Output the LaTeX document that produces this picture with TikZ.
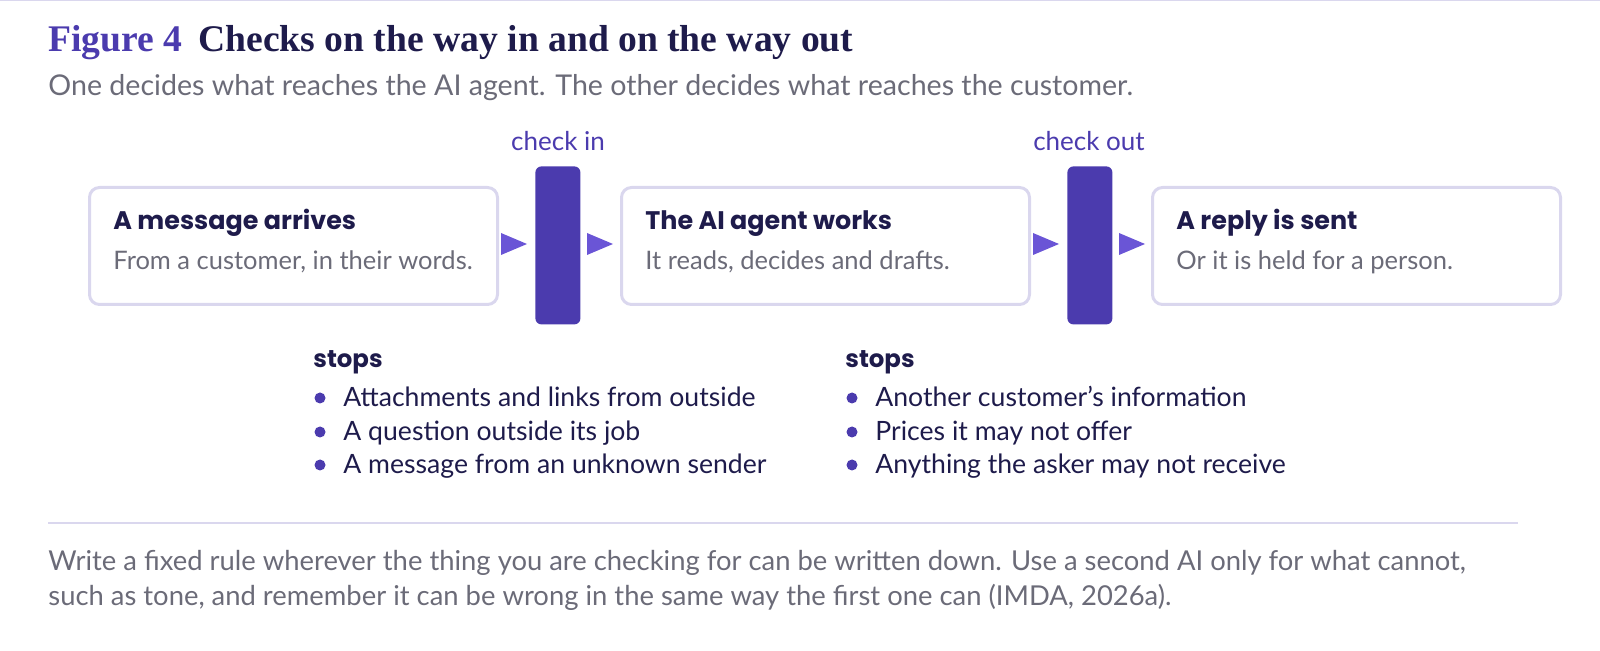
\documentclass[tikz,border=0pt]{standalone}
\usepackage{fontspec}
\setmainfont{Lato}
\newfontfamily\ser{Liberation Serif}
\newfontfamily\pop{Poppins}
\definecolor{bar}{HTML}{4B3BAE}
\definecolor{arr}{HTML}{6A55D6}
\definecolor{bord}{HTML}{DAD7EE}
\definecolor{navy}{HTML}{1E1B4B}
\definecolor{gry}{HTML}{6B6B78}
\definecolor{fig}{HTML}{4B3BAE}
\begin{document}
\begin{tikzpicture}[x=0.5pt,y=-0.5pt,
 box/.style={draw=bord,line width=1.5pt,rounded corners=5pt,minimum width=204pt,minimum height=58.5pt,anchor=north west},
 gate/.style={fill=bar,rounded corners=3pt,minimum width=22.5pt,minimum height=79pt,anchor=north west,inner sep=0},
 hd/.style={anchor=base west,font=\pop\fontsize{12.7}{14}\selectfont\bfseries,text=navy,inner sep=0},
 sb/.style={anchor=base west,font=\fontsize{12.75}{14}\selectfont,text=gry,inner sep=0},
 lab/.style={anchor=base,font=\fontsize{13}{15}\selectfont,text=bar,inner sep=0},
 it/.style={anchor=base west,font=\fontsize{13.3}{15}\selectfont,text=navy,inner sep=0},
 dot/.style={circle,fill=bar,inner sep=0,minimum size=5.5pt}]
\draw[bord,line width=0.5pt] (0,1) -- (1600,1);
\node[anchor=base west,inner sep=0] (title) at (48,52) {\ser\fontsize{18.8}{22}\selectfont\bfseries\textcolor{fig}{Figure 4}\hspace{8pt}\textcolor{navy}{Checks on the way in and on the way out}};
\node[anchor=base west,inner sep=0,text=gry,font=\fontsize{14.3}{16}\selectfont] (sub) at (48,96) {One decides what reaches the AI agent. The other decides what reaches the customer.};
\node[box] (b1) at (88,186) {};
\node[box] (b2) at (620,186) {};
\node[box] (b3) at (1151,186) {};
\node[hd] (h1) at (113,230) {A message arrives};
\node[sb] (s1) at (113,270) {From a customer, in their words.};
\node[hd] (h2) at (645,230) {The AI agent works};
\node[sb] (s2) at (645,270) {It reads, decides and drafts.};
\node[hd] (h3) at (1176,230) {A reply is sent};
\node[sb] (s3) at (1176,270) {Or it is held for a person.};
\node[gate] (g1) at (535,166) {};
\node[gate] (g2) at (1067,166) {};
\node[lab] (l1) at (558,151) {check in};
\node[lab] (l2) at (1089,151) {check out};
\fill[arr] (501,233) -- (527,244) -- (501,255) -- cycle;
\fill[arr] (587,233) -- (613,244) -- (587,255) -- cycle;
\fill[arr] (1033,233) -- (1059,244) -- (1033,255) -- cycle;
\fill[arr] (1119,233) -- (1145,244) -- (1119,255) -- cycle;
\node[hd,font=\pop\fontsize{12.2}{14}\selectfont\bfseries] (st1) at (313,368) {stops};
\node[hd,font=\pop\fontsize{12.2}{14}\selectfont\bfseries] (st2) at (845,368) {stops};
\foreach \y/\t [count=\i] in {407/Attachments and links from outside,441/A question outside its job,474/A message from an unknown sender}{
 \node[dot] (da\i) at (320,\y-9) {};
 \node[it] (ta\i) at (343,\y) {\t};}
\foreach \y/\t [count=\i] in {407/Another customer’s information,441/Prices it may not offer,474/Anything the asker may not receive}{
 \node[dot] (db\i) at (852,\y-9) {};
 \node[it] (tb\i) at (875,\y) {\t};}
\draw[bord,line width=1pt] (48,523) -- (1518,523);
\node[anchor=base west,inner sep=0,text=gry,font=\fontsize{13.7}{16}\selectfont] (f1) at (48,570) {Write a fixed rule wherever the thing you are checking for can be written down. Use a second AI only for what cannot,};
\node[anchor=base west,inner sep=0,text=gry,font=\fontsize{13.7}{16}\selectfont] (f2) at (48,605) {such as tone, and remember it can be wrong in the same way the first one can (IMDA, 2026a).};
\pgfresetboundingbox
\useasboundingbox (0,0) rectangle (1600,651);
\end{tikzpicture}
\end{document}
